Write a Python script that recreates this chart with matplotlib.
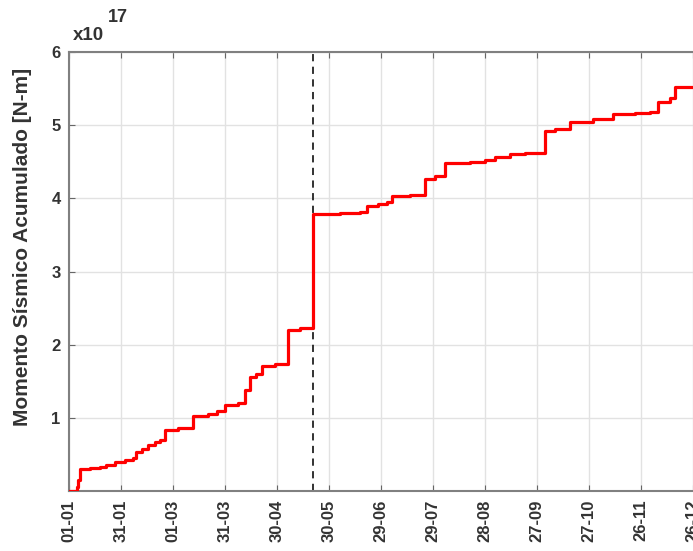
import numpy as np
import matplotlib.pyplot as plt

plt.rcParams['font.family'] = ['Liberation Sans', 'DejaVu Sans']

# dias desde 01-01 (año bisiesto) y momento acumulado en unidades de 1e17 N-m
dias = [0, 4.6, 5.2, 6.3, 12.1, 17.9, 21.4, 26.5, 32.3, 36.9, 38.7, 42.1, 45.6,
        49.6, 52.5, 55.4, 62.9, 71.6, 80.2, 85.4, 90.0, 97.5, 101.6, 104.4,
        108.0, 111.4, 118.9, 126.4, 133.3, 140.8, 156.4, 167.9, 172.0, 178.3,
        183.5, 186.4, 196.8, 205.4, 211.2, 217.0, 231.4, 240.0, 245.8, 254.5,
        263.1, 274.7, 280.4, 289.1, 302.4, 313.9, 326.6, 335.3, 339.9, 346.8,
        349.7, 366.0]
momento = [0.0, 0.05, 0.15, 0.30, 0.31, 0.33, 0.35, 0.40, 0.42, 0.45, 0.53,
           0.57, 0.63, 0.67, 0.70, 0.84, 0.86, 1.03, 1.05, 1.10, 1.18, 1.20,
           1.38, 1.56, 1.60, 1.71, 1.73, 2.20, 2.23, 3.78, 3.80, 3.82, 3.90,
           3.92, 3.95, 4.03, 4.05, 4.27, 4.30, 4.48, 4.50, 4.53, 4.57, 4.60,
           4.62, 4.92, 4.95, 5.04, 5.08, 5.15, 5.17, 5.18, 5.31, 5.37, 5.52,
           5.53]

etiquetas_x = ['01-01', '31-01', '01-03', '31-03', '30-04', '30-05', '29-06',
               '29-07', '28-08', '27-09', '27-10', '26-11', '26-12']
dia_evento = 140.8

fig = plt.figure(figsize=(6.93, 5.51), dpi=100)
ax = fig.add_axes([69 / 693, 60 / 551, 631 / 693, 439 / 551])

ax.step(dias, momento, where='post', color='red', lw=2.3, zorder=3)
ax.axvline(dia_evento, color='#222222', ls=(0, (4, 3)), lw=1.3, zorder=2)

ax.set_xlim(0, 631 / 1.733)
ax.set_ylim(0, 6)
ax.set_xticks(np.arange(len(etiquetas_x)) * 30)
ax.set_xticklabels(etiquetas_x, rotation=90, fontsize=12, fontweight='bold', color='#333333')
ax.set_yticks([1, 2, 3, 4, 5, 6])
ax.set_yticklabels(['1', '2', '3', '4', '5', '6'], fontsize=12, fontweight='bold', color='#333333')
ax.tick_params(direction='in', top=True, right=True, length=4, color='#666666', pad=6)
ax.grid(True, color='#e2e2e2', lw=1)
ax.set_axisbelow(True)
for s in ax.spines.values():
    s.set_color('#808080')
    s.set_linewidth(1.5)

ax.set_ylabel('Momento Sísmico Acumulado [N-m]', fontsize=15, fontweight='bold', color='#333333')
ax.yaxis.set_label_coords(-0.058, 0.555)
fig.text(73 / 693, 1 - 36 / 551, 'x10', fontsize=13.5, fontweight='bold', color='#333333', va='center')
fig.text(108 / 693, 1 - 18 / 551, '17', fontsize=13, fontweight='bold', color='#333333', va='center')

fig.savefig('out.png', dpi=100)
